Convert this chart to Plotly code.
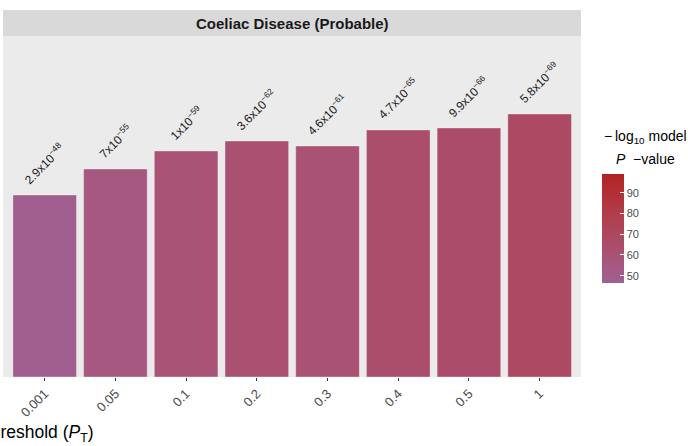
import math
import plotly.graph_objects as go

# ---------------- data ----------------
thresholds = ["0.001", "0.05", "0.1", "0.2", "0.3", "0.4", "0.5", "1"]
p_mantissa = [2.9, 7, 1, 3.6, 4.6, 4.7, 9.9, 5.8]
p_exponent = [-48, -55, -59, -62, -61, -65, -66, -69]
r2_values = [0.0182, 0.0208, 0.0226, 0.0236, 0.0231, 0.0247, 0.0249, 0.0263]
colorbar_ticks = [50, 60, 70, 80, 90]
color_min, color_max = 46.5, 99.0
y_max = 0.0341

neglog_p = [-(math.log10(m) + e) for m, e in zip(p_mantissa, p_exponent)]
labels = [f"{m:g}x10<sup>\u2212{-e}</sup>" for m, e in zip(p_mantissa, p_exponent)]

# ---------------- colour scale (Lab interpolation like ggplot) ----------------
LOW = (160, 96, 146)
HIGH = (178, 34, 34)


def _lin(c):
    c = c / 255
    return c / 12.92 if c <= 0.04045 else ((c + 0.055) / 1.055) ** 2.4


def _gam(c):
    c = 12.92 * c if c <= 0.0031308 else 1.055 * c ** (1 / 2.4) - 0.055
    return max(0, min(255, round(c * 255)))


def rgb2lab(rgb):
    r, g, b = [_lin(v) for v in rgb]
    x = (0.4124 * r + 0.3576 * g + 0.1805 * b) / 0.95047
    y = (0.2126 * r + 0.7152 * g + 0.0722 * b) / 1.0
    z = (0.0193 * r + 0.1192 * g + 0.9505 * b) / 1.08883
    f = lambda t: t ** (1 / 3) if t > 0.008856 else 7.787 * t + 16 / 116
    fx, fy, fz = f(x), f(y), f(z)
    return (116 * fy - 16, 500 * (fx - fy), 200 * (fy - fz))


def lab2rgb(lab):
    L, a, b = lab
    fy = (L + 16) / 116
    fx = fy + a / 500
    fz = fy - b / 200
    finv = lambda t: t ** 3 if t ** 3 > 0.008856 else (t - 16 / 116) / 7.787
    x, y, z = finv(fx) * 0.95047, finv(fy), finv(fz) * 1.08883
    r = 3.2406 * x - 1.5372 * y - 0.4986 * z
    g = -0.9689 * x + 1.8758 * y + 0.0415 * z
    bb = 0.0557 * x - 0.2040 * y + 1.0570 * z
    return (_gam(r), _gam(g), _gam(bb))


lab_lo, lab_hi = rgb2lab(LOW), rgb2lab(HIGH)
colorscale = []
N = 20
for i in range(N + 1):
    t = i / N
    lab = tuple(lo + (hi - lo) * t for lo, hi in zip(lab_lo, lab_hi))
    r, g, b = lab2rgb(lab)
    colorscale.append([t, f"rgb({r},{g},{b})"])

# ---------------- figure ----------------
FONT = "Liberation Sans, Arial, Helvetica, sans-serif"
W, H = 688, 446
ML, MR, MT, MB = 3, 107, 36, 69
PW, PH = W - ML - MR, H - MT - MB


def px_x(px):
    return (px - ML) / PW


def px_y(py):
    return (H - MB - py) / PH


fig = go.Figure()
fig.add_trace(go.Bar(
    x=thresholds,
    y=r2_values,
    width=0.9,
    marker=dict(
        color=neglog_p,
        colorscale=colorscale,
        cmin=color_min,
        cmax=color_max,
        line=dict(color="rgba(255,255,255,0.35)", width=1),
        showscale=True,
        colorbar=dict(
            xref="paper", yref="paper",
            x=px_x(602), xanchor="left",
            y=px_y(283), yanchor="bottom",
            len=109, lenmode="pixels",
            thickness=22, thicknessmode="pixels",
            xpad=0, ypad=0,
            outlinewidth=0,
            ticks="inside", ticklen=4, tickcolor="white", tickwidth=1,
            tickvals=colorbar_ticks,
            tickprefix="\u00a0",
            tickfont=dict(family=FONT, size=11, color="#4D4D4D"),
        ),
    ),
    hoverinfo="skip",
))

annotations = []
for i, (val, lab) in enumerate(zip(r2_values, labels)):
    annotations.append(dict(
        x=i, y=val, xref="x", yref="y", text=lab, showarrow=False,
        textangle=-45, xanchor="center", yanchor="bottom", yshift=5,
        font=dict(family=FONT, size=12, color="#1A1A1A"),
    ))

# strip title
annotations.append(dict(
    x=0.5, y=1 + 13 / PH, xref="paper", yref="paper",
    text="<b>Coeliac Disease (Probable)</b>", showarrow=False,
    xanchor="center", yanchor="middle",
    font=dict(family=FONT, size=15, color="#1A1A1A"),
))
# x axis title (partially cut off at the left edge, as in the reference)
annotations.append(dict(
    x=px_x(-22.5), y=px_y(433), xref="paper", yref="paper",
    text="Threshold (<i>P</i><sub>T</sub>)", showarrow=False,
    xanchor="left", yanchor="middle",
    font=dict(family=FONT, size=17.5, color="#000000"),
))
# colour legend title
annotations.append(dict(
    x=px_x(645.5), y=px_y(136.5), xref="paper", yref="paper",
    text="\u2212\u2009log<sub>10</sub> model", showarrow=False,
    xanchor="center", yanchor="middle",
    font=dict(family=FONT, size=14, color="#000000"),
))
annotations.append(dict(
    x=px_x(645.5), y=px_y(159), xref="paper", yref="paper",
    text="<i>P</i>  \u2212value", showarrow=False,
    xanchor="center", yanchor="middle",
    font=dict(family=FONT, size=14, color="#000000"),
))

fig.update_layout(
    width=W, height=H,
    margin=dict(l=ML, r=MR, t=MT, b=MB, pad=0, autoexpand=False),
    paper_bgcolor="white",
    plot_bgcolor="#EBEBEB",
    showlegend=False,
    font=dict(family=FONT),
    annotations=annotations,
    shapes=[dict(
        type="rect", xref="paper", yref="paper",
        x0=0, x1=1, y0=1, y1=1 + 26 / PH,
        fillcolor="#D9D9D9", line=dict(width=0),
    )],
    xaxis=dict(
        type="category",
        range=[-0.59, 7.585],
        showgrid=False, zeroline=False, showline=False,
        ticks="outside", ticklen=3, tickwidth=1, tickcolor="#333333",
        tickangle=-45,
        tickfont=dict(family=FONT, size=13, color="#4D4D4D"),
    ),
    yaxis=dict(
        range=[0, y_max],
        visible=False,
        showgrid=False, zeroline=False,
    ),
)

fig.write_html(
    "out.html",
    config={"displayModeBar": False},
    post_script="document.body.style.margin='0px';",
)
